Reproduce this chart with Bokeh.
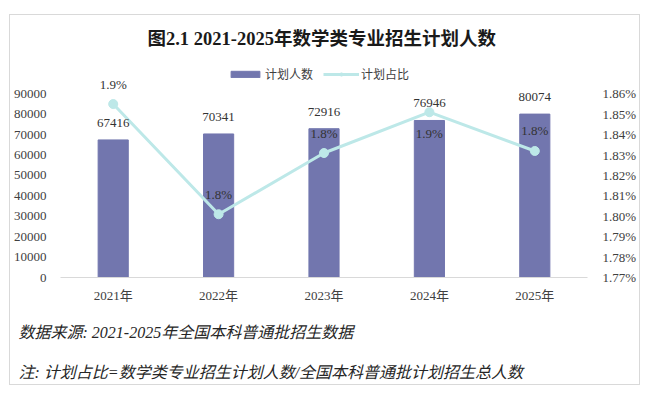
from bokeh.plotting import figure
from bokeh.models import (ColumnDataSource, Range1d, FactorRange, LinearAxis, LabelSet,
                          Legend, LegendItem, FixedTicker, PrintfTickFormatter, Title)
from bokeh.core.properties import value
from bokeh.embed import file_html
from bokeh.resources import INLINE

years = ["2021年", "2022年", "2023年", "2024年", "2025年"]
plan_counts = [67416, 70341, 72916, 76946, 80074]
plan_share = [1.855, 1.801, 1.831, 1.851, 1.832]  # percent
left_ticks = [0, 10000, 20000, 30000, 40000, 50000, 60000, 70000, 80000, 90000]
right_ticks = [1.77, 1.78, 1.79, 1.80, 1.81, 1.82, 1.83, 1.84, 1.85, 1.86]

title_text = "图2.1  2021-2025年数学类专业招生计划人数"
source_text = "数据来源:  2021-2025年全国本科普通批招生数据"
note_text = "注:  计划占比=数学类专业招生计划人数/全国本科普通批计划招生总人数"

SERIF = "Liberation Serif, Noto Sans CJK SC"
BAR_COLOR = "#7276AE"
LINE_COLOR = "#BDE8E8"
TXT = "#404040"

# layout: axis span (0..90000) occupies 182px; the frame reaches 38px higher for the legend
AXIS_PX = 182
FRAME_PX = 220
ext = FRAME_PX / AXIS_PX

src = ColumnDataSource(dict(
    x=years,
    cnt=plan_counts,
    cnt_txt=[str(v) for v in plan_counts],
    share=plan_share,
    share_txt=[f"{v:.1f}%" for v in plan_share],
    share_off=[20 if i != 3 else -21 for i in range(len(years))],
))

left_lo, left_hi = left_ticks[0], left_ticks[-1]
right_lo, right_hi = right_ticks[0], right_ticks[-1]

p = figure(width=631, height=371, output_backend="svg", toolbar_location=None,
           x_range=FactorRange(*years, range_padding=0),
           y_range=Range1d(left_lo, left_lo + (left_hi - left_lo) * ext),
           min_border_left=50, min_border_right=54, min_border_top=40, min_border_bottom=109)
p.margin = (14, 0, 0, 9)
p.styles = {"border": "1px solid #d9d9d9", "box-sizing": "border-box"}
p.outline_line_color = None
p.background_fill_color = "white"
p.border_fill_color = "white"
p.xgrid.visible = False
p.ygrid.visible = False

p.extra_y_ranges = {"pct": Range1d(right_lo, right_lo + (right_hi - right_lo) * ext)}

bars = p.vbar(x="x", top="cnt", width=0.286, source=src, color=BAR_COLOR)
ln = p.line(x="x", y="share", source=src, y_range_name="pct", line_color=LINE_COLOR, line_width=3)
mk = p.scatter(x="x", y="share", source=src, y_range_name="pct", size=9,
               fill_color=LINE_COLOR, line_color=LINE_COLOR)

# axes
xa = p.xaxis[0]
xa.axis_line_color = "#d9d9d9"
xa.major_tick_line_color = None
xa.minor_tick_line_color = None
xa.major_label_text_font = SERIF
xa.major_label_text_font_size = "13px"
xa.major_label_text_color = TXT
xa.major_label_standoff = 4

ya = p.yaxis[0]
ya.ticker = FixedTicker(ticks=left_ticks)
ya.axis_line_color = None
ya.major_tick_line_color = None
ya.minor_tick_line_color = None
ya.major_label_text_font = SERIF
ya.major_label_text_font_size = "13px"
ya.major_label_text_color = TXT
ya.major_label_standoff = 8

ra = LinearAxis(y_range_name="pct", ticker=FixedTicker(ticks=right_ticks),
                formatter=PrintfTickFormatter(format="%.2f%%"))
ra.axis_line_color = None
ra.major_tick_line_color = None
ra.minor_tick_line_color = None
ra.major_label_text_font = SERIF
ra.major_label_text_font_size = "13px"
ra.major_label_text_color = TXT
ra.major_label_standoff = 9
p.add_layout(ra, "right")

# data labels
p.add_layout(LabelSet(x="x", y="cnt", text="cnt_txt", source=src, y_offset=17,
                      text_align="center", text_baseline="middle",
                      text_font=value(SERIF), text_font_size="13px", text_color="#333333"))
p.add_layout(LabelSet(x="x", y="share", text="share_txt", source=src, y_range_name="pct",
                      y_offset="share_off", text_align="center", text_baseline="middle",
                      text_font=value(SERIF), text_font_size="13px", text_color="#333333"))

# title
p.title.text = title_text
p.title.align = "center"
p.title.text_font = SERIF
p.title.text_font_size = "18.5px"
p.title.text_font_style = "bold"
p.title.text_color = "#1a1a1a"
p.title.standoff = 13

# legend (inside the upper part of the frame)
legend = Legend(items=[LegendItem(label="计划人数", renderers=[bars]),
                       LegendItem(label="计划占比", renderers=[ln, mk])],
                orientation="horizontal", location=(167, FRAME_PX - 26),
                glyph_width=36, glyph_height=8, label_height=14, label_standoff=2,
                spacing=10, padding=0, margin=0,
                label_text_font=SERIF, label_text_font_size="12px",
                label_text_color=TXT, border_line_color=None, background_fill_alpha=0)
p.add_layout(legend)

# notes
for txt, so in [(source_text, 33), (note_text, 9)]:
    t = Title(text=txt, align="left", offset=-42, text_font=SERIF, text_font_size="16px",
              text_font_style="italic", text_color="#262626", standoff=so)
    p.add_layout(t, "below")

open("out.html", "w").write(file_html(p, INLINE))
